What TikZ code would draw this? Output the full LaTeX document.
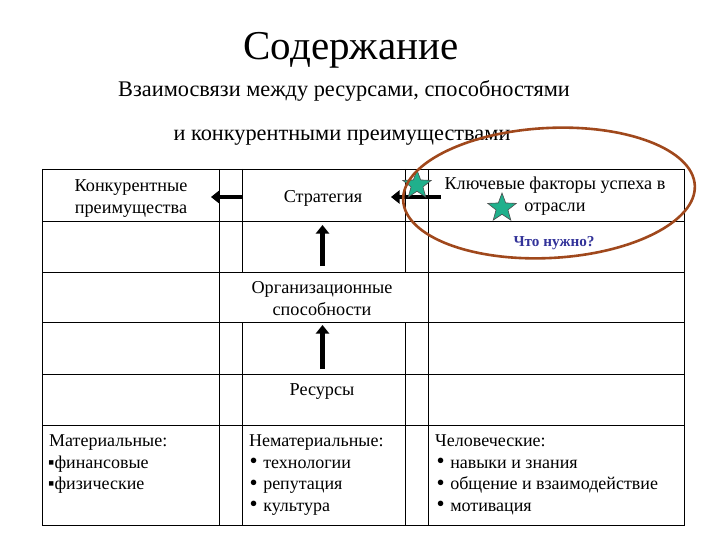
\documentclass[tikz,border=0pt]{standalone}
\usepackage{fontspec}
\setmainfont{Liberation Serif}
\usetikzlibrary{shapes.geometric,arrows.meta}
\definecolor{ellc}{RGB}{160,72,28}
\definecolor{starc}{RGB}{32,176,140}
\definecolor{qc}{RGB}{51,51,153}
\newcommand{\bul}{\raisebox{-0.8pt}{\fontsize{23}{21}\selectfont•}\hspace{5.5pt}}
\begin{document}
\begin{tikzpicture}[x=1pt,y=-1pt,
  grid/.style={line width=0.9pt,black},
  cell/.style={inner sep=0pt,anchor=base,font=\fontsize{18.2}{21}\selectfont},
  lcell/.style={inner sep=0pt,anchor=base west,font=\fontsize{18}{21}\selectfont},
  bigarrow/.style={line width=4.5pt,-{Triangle[length=8.5pt,width=13pt]}},
  starbox/.style={star,star points=5,star point ratio=2.4,minimum size=30pt,inner sep=0pt,fill=starc,draw=black!70,line width=0.6pt}]
\useasboundingbox (0,0) rectangle (720,540);
% titles
\node[inner sep=0pt,anchor=base,font=\fontsize{41}{48}\selectfont] (title) at (351,60) {Содержание};
\node[inner sep=0pt,anchor=base,font=\fontsize{22.3}{28}\selectfont] (sub1) at (344,97) {Взаимосвязи между ресурсами, способностями};
\node[inner sep=0pt,anchor=base,font=\fontsize{22.3}{28}\selectfont] (sub2) at (342,141) {и конкурентными преимуществами};
% grid
\foreach \yy in {169,221,272.5,322.5,374.5,425,525.5}
  \draw[grid] (42,\yy) -- (684,\yy);
\foreach \xx in {42,219,428,684}
  \draw[grid] (\xx,169) -- (\xx,525.5);
\foreach \xx in {242.5,405}{
  \draw[grid] (\xx,169) -- (\xx,272.5);
  \draw[grid] (\xx,322.5) -- (\xx,525.5);}
% cell texts
\node[cell] (k1) at (131,191.5) {Конкурентные};
\node[cell] (k2) at (131,213.3) {преимущества};
\node[cell] (strat) at (323,202.5) {Стратегия};
\node[cell] (f1) at (555,190) {Ключевые факторы успеха в};
\node[cell] (f2) at (555,211.7) {отрасли};
\node[inner sep=0pt,anchor=base,font=\fontsize{15.2}{18}\selectfont\bfseries,text=qc] (what) at (554,247) {Что нужно?};
\node[cell] (o1) at (322,293) {Организационные};
\node[cell] (o2) at (322,315) {способности};
\node[cell] (res) at (322,395) {Ресурсы};
% bottom lists
\node[lcell] (m0) at (49,446) {Материальные:};
\node[lcell] (m1) at (48,468) {▪финансовые};
\node[lcell] (m2) at (48,489.5) {▪физические};
\node[lcell] (n0) at (249,446) {Нематериальные:};
\node[lcell] (n1) at (249.5,468) {\bul технологии};
\node[lcell] (n2) at (249.5,489.5) {\bul репутация};
\node[lcell] (n3) at (249.5,511) {\bul культура};
\node[lcell] (h0) at (435,446) {Человеческие:};
\node[lcell] (h1) at (436.5,468) {\bul навыки и знания};
\node[lcell] (h2) at (436.5,489.5) {\bul общение и взаимодействие};
\node[lcell] (h3) at (436.5,511) {\bul мотивация};
% arrows
\coordinate (a1s) at (243,197); \coordinate (a1e) at (211,197);
\coordinate (a2s) at (441,197); \coordinate (a2e) at (391,197);
\coordinate (u1s) at (322.5,266); \coordinate (u1e) at (322.5,225);
\coordinate (u2s) at (322.5,369); \coordinate (u2e) at (322.5,325);
\draw[bigarrow] (a1s) -- (a1e);
\draw[bigarrow] (a2s) -- (a2e);
\draw[bigarrow] (u1s) -- (u1e);
\draw[bigarrow] (u2s) -- (u2e);
% stars
\node[starbox] (s1) at (417,185) {};
\node[starbox] (s2) at (502,208) {};
% ellipse
\draw[ellc,line width=2.6pt,rotate around={3:(549,193)}] (549,193) ellipse [x radius=146pt,y radius=65pt];
\end{tikzpicture}
\end{document}
